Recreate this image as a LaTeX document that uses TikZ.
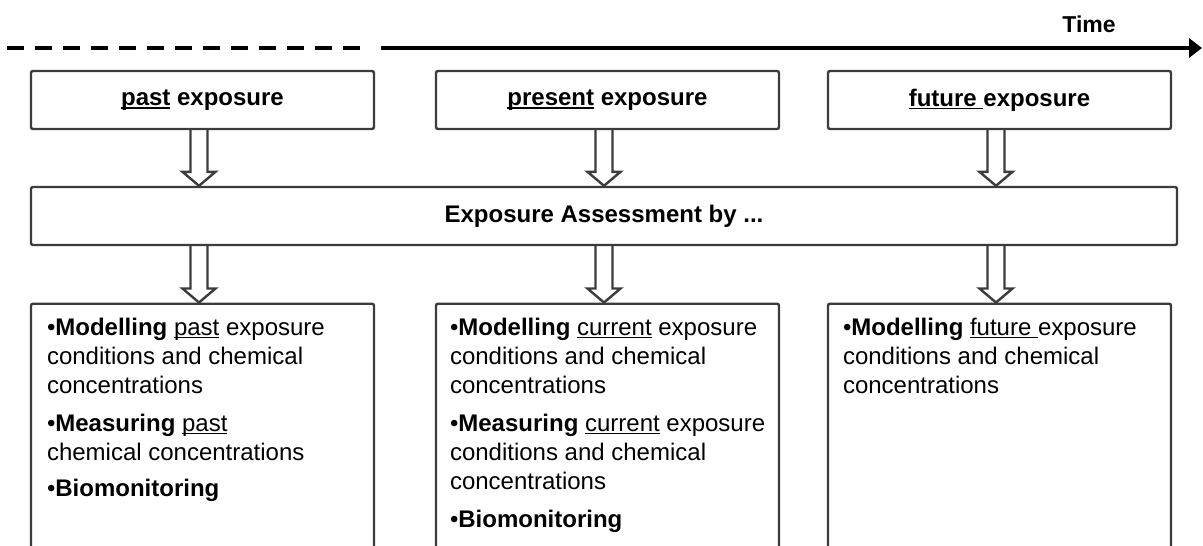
\documentclass[tikz,border=0pt]{standalone}
\usepackage{fontspec}
\setmainfont{Liberation Sans}
\usetikzlibrary{arrows.meta,calc}

\definecolor{linegray}{RGB}{60,60,60}

% underline with a thicker rule placed under the baseline
\newcommand\undl[1]{\setbox0\hbox{#1}\rlap{\rule[-3.2pt]{\wd0}{1.6pt}}\box0\relax}

% hollow block arrow from one anchor down to another
\newcommand\blockarrow[2]{%
  \draw[hollow] let \p1=($(#1)+(-3.5,0)$), \p2=(#2) in
    (\x1-8.5pt,\y1) -- (\x1-8.5pt,\y2+14pt) -- (\x1-16.5pt,\y2+14pt)
    -- (\x1,\y2) -- (\x1+16.5pt,\y2+14pt) -- (\x1+8.5pt,\y2+14pt)
    -- (\x1+8.5pt,\y1);}

\tikzset{
  frame/.style={draw=linegray, line width=2.4pt, rounded corners=2pt, inner sep=0pt},
  headbox/.style={frame, minimum width=343pt, minimum height=58pt,
    font=\fontsize{24}{29}\selectfont\bfseries},
  bandbox/.style={frame, minimum width=1146pt, minimum height=58pt,
    font=\fontsize{24}{29}\selectfont\bfseries},
  listbox/.style={frame, minimum width=343pt, minimum height=280pt, anchor=north},
  listtext/.style={anchor=north west, inner sep=0pt, align=left,
    font=\fontsize{24}{29}\selectfont},
  hollow/.style={draw=linegray, line width=2.4pt, line join=miter},
  timeline/.style={line width=3.2pt, black},
}

\begin{document}
\begin{tikzpicture}[x=1pt, y=-1pt]
  \fill[white] (0,0) rectangle (1203,546);
  \useasboundingbox (0,0) rectangle (1203,546);
  \clip (0,0) rectangle (1203,546);

  % time axis
  \coordinate (t0) at (7,48);
  \coordinate (t1) at (369,48);
  \coordinate (t2) at (381,48);
  \coordinate (t3) at (1202,48);
  \draw[timeline, dash pattern=on 17pt off 11pt] (t0) -- (t1);
  \draw[timeline, -{Triangle[length=13pt,width=19pt]}] (t2) -- (t3);
  \node[font=\fontsize{23}{28}\selectfont\bfseries] (timelbl) at (1089,24) {Time};

  % exposure periods
  \node[headbox] (past) at (202.5,100) {\undl{past} exposure};
  \node[headbox] (present) at (607.5,100) {\undl{present} exposure};
  \node[headbox] (future) at (999.5,100) {\undl{future\ }exposure};

  % assessment band
  \node[bandbox] (assess) at (604,216) {Exposure Assessment by ...};

  % methods per period
  \node[listbox] (mpast) at (202.5,302.5) {};
  \node[listbox] (mpresent) at (607.5,302.5) {};
  \node[listbox] (mfuture) at (999.5,302.5) {};

  \node[listtext] (tpast) at ($(mpast.north west)+(17,15)$) {%
    •\textbf{Modelling} \undl{past} exposure\\
    conditions and chemical\\
    concentrations\\[9pt]
    •\textbf{Measuring} \undl{past}\\
    chemical concentrations\\[7pt]
    •\textbf{Biomonitoring}};

  \node[listtext] (tpresent) at ($(mpresent.north west)+(15,15)$) {%
    •\textbf{Modelling} \undl{current} exposure\\
    conditions and chemical\\
    concentrations\\[9pt]
    •\textbf{Measuring} \undl{current} exposure\\
    conditions and chemical\\
    concentrations\\[9pt]
    •\textbf{Biomonitoring}};

  \node[listtext] (tfuture) at ($(mfuture.north west)+(16,15)$) {%
    •\textbf{Modelling} \undl{future\ }exposure\\
    conditions and chemical\\
    concentrations};

  % block arrows
  \blockarrow{past.south}{assess.north -| past.south}
  \blockarrow{present.south}{assess.north -| present.south}
  \blockarrow{future.south}{assess.north -| future.south}
  \blockarrow{assess.south -| mpast.north}{mpast.north}
  \blockarrow{assess.south -| mpresent.north}{mpresent.north}
  \blockarrow{assess.south -| mfuture.north}{mfuture.north}
\end{tikzpicture}
\end{document}
